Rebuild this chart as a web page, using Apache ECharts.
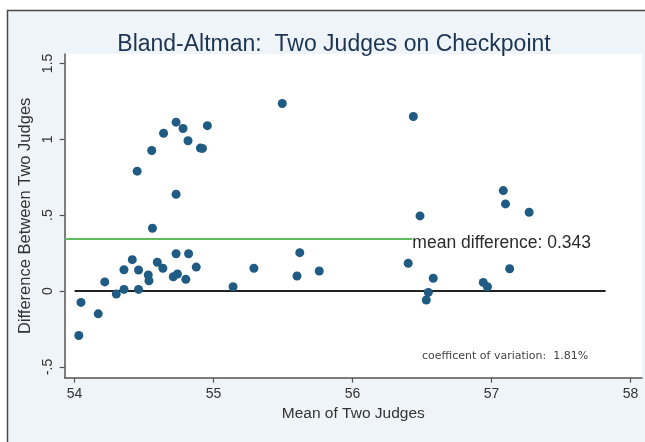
<!DOCTYPE html>
<html>
<head>
<meta charset="utf-8">
<script src="https://cdn.jsdelivr.net/npm/echarts@6/dist/echarts.min.js"></script>
<style>
html,body{margin:0;padding:0;background:#fff;overflow:hidden;}
#chart{width:645px;height:442px;}
</style>
</head>
<body>
<div id="chart"></div>
<script>
// Data
var meanOfJudges = [
  54.03, 54.046, 54.17, 54.217, 54.30, 54.355, 54.355, 54.415, 54.46, 54.46,
  54.45, 54.53, 54.535, 54.56, 54.555, 54.595, 54.635, 54.64, 54.71, 54.73,
  54.73, 54.73, 54.74, 54.78, 54.80, 54.816, 54.82, 54.875, 54.905, 54.92,
  54.955, 55.14, 55.29, 55.494, 55.60, 55.62, 55.76, 56.40, 56.437, 56.485,
  56.53, 56.545, 56.58, 56.94, 56.97, 57.084, 57.10, 57.13, 57.27
];
var diffOfJudges = [
  -0.293, -0.075, -0.15, 0.06, -0.02, 0.011, 0.14, 0.207, 0.139, 0.011,
  0.79, 0.106, 0.068, 0.414, 0.926, 0.19, 0.15, 1.04, 0.094, 0.246,
  0.638, 1.113, 0.112, 1.071, 0.077, 0.99, 0.246, 0.158, 0.942, 0.94,
  1.09, 0.028, 0.15, 1.236, 0.099, 0.253, 0.132, 0.183, 1.15, 0.495,
  -0.059, -0.009, 0.084, 0.057, 0.028, 0.662, 0.574, 0.147, 0.519
];
var meanDifference = 0.343;
var meanLineX = [53.93, 56.43];
var zeroLineX = [54.0, 57.82];
var xTicks = [54, 55, 56, 57, 58];
var yTicks = [-0.5, 0, 0.5, 1, 1.5];
var yTickLabels = ['-.5', '0', '.5', '1', '1.5'];
var titleText = 'Bland-Altman:  Two Judges on Checkpoint';
var cvText = 'coefficent of variation:  1.81%';

var points = meanOfJudges.map(function (m, i) { return [m, diffOfJudges[i]]; });

var chart = echarts.init(document.getElementById('chart'), null, {renderer: 'canvas'});
var FONT = '"Liberation Sans", Arial, Helvetica, sans-serif';

chart.setOption({
  backgroundColor: '#ffffff',
  animation: false,
  textStyle: {fontFamily: FONT},
  graphic: [
    {
      type: 'rect', z: -100, silent: true,
      shape: {x: 7.5, y: 10.5, width: 700, height: 500},
      style: {fill: '#eef4f7', lineWidth: 0}
    },
    {
      type: 'polyline', z: -99, silent: true,
      shape: {points: [[7.5, 460], [7.5, 10.5], [700, 10.5]]},
      style: {fill: null, stroke: '#4a4a4a', lineWidth: 1.5}
    },
    {
      type: 'text', z: 100, left: 422, top: 351,
      style: {text: cvText, fill: '#444', font: '11px "DejaVu Sans", Verdana, sans-serif'}
    }
  ],
  title: {
    text: titleText,
    left: 329, top: 28, textAlign: 'center',
    textStyle: {color: '#1c3553', fontSize: 23, fontWeight: 'normal', fontFamily: FONT}
  },
  grid: {
    left: 64.6, top: 54, right: 3, bottom: 64.3,
    show: true, backgroundColor: '#ffffff', borderWidth: 0
  },
  xAxis: {
    type: 'value', min: 53.928, max: 58.082,
    name: 'Mean of Two Judges', nameLocation: 'middle', nameGap: 25,
    nameTextStyle: {color: '#333', fontSize: 15.5, fontFamily: FONT},
    axisLine: {show: true, onZero: false, lineStyle: {color: '#555', width: 1.5}},
    axisTick: {show: true, length: 5, customValues: xTicks, lineStyle: {color: '#555', width: 1.2}},
    axisLabel: {customValues: xTicks, color: '#333', fontSize: 14, margin: 9, fontFamily: FONT},
    splitLine: {show: false}
  },
  yAxis: {
    type: 'value', min: -0.571, max: 1.562,
    name: 'Difference Between Two Judges', nameLocation: 'middle', nameGap: 25,
    nameTextStyle: {color: '#333', fontSize: 16.5, fontFamily: FONT},
    axisLine: {show: true, onZero: false, lineStyle: {color: '#555', width: 1.5}},
    axisTick: {show: true, length: 5, customValues: yTicks, lineStyle: {color: '#555', width: 1.2}},
    axisLabel: {
      customValues: yTicks, rotate: 90, color: '#333', fontSize: 14, margin: 9, fontFamily: FONT,
      formatter: function (v) {
        var i = yTicks.indexOf(Math.round(v * 100) / 100);
        return i >= 0 ? yTickLabels[i] : '';
      }
    },
    splitLine: {show: false}
  },
  series: [
    {
      type: 'line', silent: true, symbol: 'none', z: 2,
      data: zeroLineX.map(function (x) { return [x, 0]; }),
      lineStyle: {color: '#222', width: 2}
    },
    {
      type: 'line', silent: true, symbol: 'none', z: 2,
      data: meanLineX.map(function (x) { return [x, meanDifference]; }),
      lineStyle: {color: '#63bb5f', width: 2},
      endLabel: {
        show: true, distance: 0, offset: [0, 4],
        formatter: 'mean difference: ' + meanDifference.toFixed(3),
        color: '#2b2b2b', fontSize: 17.5, fontFamily: FONT
      }
    },
    {
      type: 'scatter', z: 3,
      data: points, symbol: 'circle', symbolSize: 9,
      itemStyle: {color: '#1f5b82', opacity: 1}
    }
  ]
});
</script>
</body>
</html>
